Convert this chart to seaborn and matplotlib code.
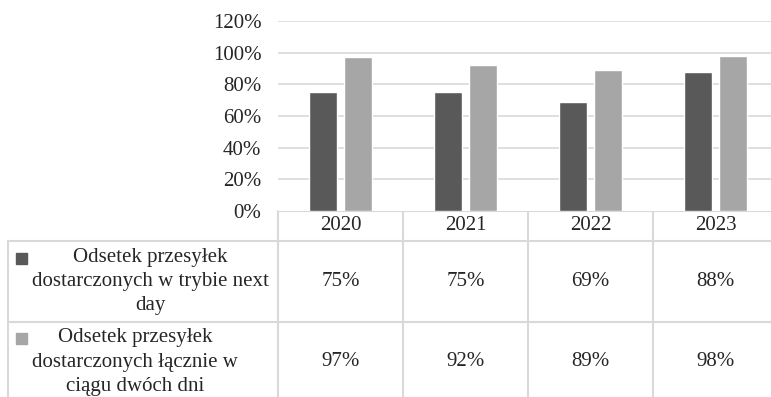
import matplotlib
matplotlib.use("Agg")
import matplotlib.pyplot as plt
import matplotlib.transforms as mtransforms
from matplotlib.patches import Rectangle
import pandas as pd
import seaborn as sns

years = ["2020", "2021", "2022", "2023"]
series_names = [
    "Odsetek przesyłek\ndostarczonych w trybie next\nday",
    "Odsetek przesyłek\ndostarczonych łącznie w\nciągu dwóch dni",
]
next_day = [75, 75, 69, 88]
two_days = [97, 92, 89, 98]
y_ticks = [0, 20, 40, 60, 80, 100, 120]

colors = ["#595959", "#a6a6a6"]
grid_color = "#d9d9d9"

sns.set_theme(style="white")
plt.rcParams["font.family"] = ["Liberation Serif", "DejaVu Serif"]

df = pd.DataFrame({
    "rok": years * 2,
    "seria": [series_names[0]] * 4 + [series_names[1]] * 4,
    "wartosc": next_day + two_days,
})

W, H = 771, 397
fig = plt.figure(figsize=(W / 100, H / 100), dpi=100)
# plot area in pixels: x 278..778, y 21..211 (from top)
ax = fig.add_axes([278 / W, (H - 211) / H, 500 / W, 190 / H])

sns.barplot(data=df, x="rok", y="wartosc", hue="seria", palette=colors,
            width=0.565, gap=0.22, saturation=1, legend=False, ax=ax)
ax.set_ylim(0, 120)
ax.set_xlim(-0.5, len(years) - 0.5)
ax.set_yticks(y_ticks)
ax.set_yticklabels([f"{v}%" for v in y_ticks], fontsize=15)
ax.set_xticks([])
ax.set_xlabel("")
ax.set_ylabel("")
ax.tick_params(axis="y", length=0, pad=12)
for v in y_ticks[1:]:
    ax.axhline(v, color=grid_color, lw=1.2, zorder=0)
for s in ax.spines.values():
    s.set_visible(False)

# data table drawn in pixel coordinates
tab = fig.add_axes([0, 0, 1, 1], zorder=-1)
tab.set_xlim(0, W)
tab.set_ylim(H, 0)
tab.axis("off")
tab.patch.set_alpha(0)
blend = mtransforms.blended_transform_factory(ax.transData, tab.transData)

line_kw = dict(color=grid_color, lw=1.5, zorder=1)
row_tops = [211, 241, 322, 402]
tab.plot([278, W], [211, 211], **line_kw)
tab.plot([8, W], [241, 241], **line_kw)
tab.plot([8, W], [322, 322], **line_kw)
tab.plot([8, 8], [241, H], **line_kw)
for i in range(len(years)):
    tab.plot([i - 0.5, i - 0.5], [211, H], transform=blend, **line_kw)

for i, yr in enumerate(years):
    tab.text(i, 226, yr, transform=blend, ha="center", va="center", fontsize=15)

for r, (name, vals) in enumerate(zip(series_names, [next_day, two_days])):
    y0, y1 = row_tops[r + 1], row_tops[r + 2]
    yc = (y0 + y1) / 2
    tab.text(32, yc, name, ha="left", va="center", multialignment="center",
             fontsize=15, linespacing=1.38)
    tab.add_patch(Rectangle((16, yc - 29), 11, 11, color=colors[r]))
    for i, v in enumerate(vals):
        tab.text(i, yc, f"{v}%", transform=blend, ha="center", va="center", fontsize=15)

fig.savefig("out.png", dpi=100)
